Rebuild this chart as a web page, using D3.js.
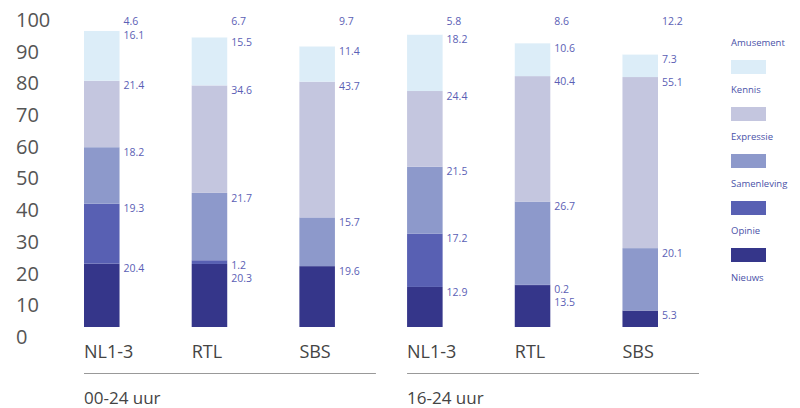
<!DOCTYPE html>
<html>
<head>
<meta charset="utf-8">
<script src="https://cdn.jsdelivr.net/npm/d3@7"></script>
<style>
  body { margin: 0; background: #fff; }
  svg { font-family: "Open Sans", sans-serif; }
</style>
</head>
<body>
<svg id="chart" width="800" height="408"></svg>
<script>
// bars, left to right
const bars = ["NL1-3 a", "RTL a", "SBS a", "NL1-3 b", "RTL b", "SBS b"];
const barLabels = ["NL1-3", "RTL", "SBS", "NL1-3", "RTL", "SBS"];
const groups = ["00-24 uur", "16-24 uur"];

// share per genre (%), stacked bottom -> top
const nieuws      = [20.4, 20.3, 19.6, 12.9, 13.5, 5.3];
const opinie      = [19.3, 1.2, 0, 17.2, 0.2, 0];
const samenleving = [18.2, 21.7, 15.7, 21.5, 26.7, 20.1];
const expressie   = [21.4, 34.6, 43.7, 24.4, 40.4, 55.1];
const kennis      = [16.1, 15.5, 11.4, 18.2, 10.6, 7.3];
const amusement   = [4.6, 6.7, 9.7, 5.8, 8.6, 12.2];

const genres = ["Nieuws", "Opinie", "Samenleving", "Expressie", "Kennis", "Amusement"];
const colors = ["#35368a", "#5860b3", "#8d99cb", "#c4c6df", "#dcedf8", "#ffffff"];
const yTicks = [0, 10, 20, 30, 40, 50, 60, 70, 80, 90, 100];

const svg = d3.select("#chart");

const table = bars.map((b, i) => ({
  bar: b,
  Nieuws: nieuws[i], Opinie: opinie[i], Samenleving: samenleving[i],
  Expressie: expressie[i], Kennis: kennis[i], Amusement: amusement[i]
}));

const series = d3.stack().keys(genres)(table);

const x = d3.scaleBand().domain(bars).range([84, 658]).paddingInner(0.67).paddingOuter(0);
const y = d3.scaleLinear().domain([0, 100]).range([327, 16.5]);
// the printed tick labels sit a little lower than the bar scale
const yAxisScale = y.copy().range([337, 20]);

const color = d3.scaleOrdinal().domain(genres).range(colors);

// y axis (labels only)
const yAxis = svg.append("g")
  .attr("transform", "translate(16,0)")
  .call(d3.axisLeft(yAxisScale).tickValues(yTicks).tickSize(0).tickPadding(0));
yAxis.select(".domain").remove();
yAxis.selectAll("text")
  .attr("text-anchor", "start")
  .attr("x", 0)
  .attr("fill", "#555")
  .style("font-size", "20px")
  .style("font-family", "Open Sans, sans-serif");

// stacked bars
svg.append("g").selectAll("g")
  .data(series)
  .join("g")
  .attr("fill", d => color(d.key))
  .selectAll("rect")
  .data(d => d)
  .join("rect")
  .attr("x", d => x(d.data.bar))
  .attr("y", d => y(d[1]))
  .attr("width", x.bandwidth())
  .attr("height", d => y(d[0]) - y(d[1]));

// value labels at the top of each segment, pushed down if they collide
bars.forEach((b, i) => {
  let prev = -Infinity;
  for (let k = genres.length - 1; k >= 0; k--) {
    const seg = series[k][i];
    const v = seg[1] - seg[0];
    if (v <= 0) continue;
    let cy = Math.max(y(seg[1]) + 5, prev + 13);
    prev = cy;
    svg.append("text")
      .attr("x", x(b) + x.bandwidth() + 4)
      .attr("y", cy)
      .attr("dy", "0.35em")
      .attr("fill", "#5b60b5")
      .style("font-size", "10.5px")
      .text(d3.format(".1f")(v));
  }
});

// category labels
svg.append("g").selectAll("text")
  .data(bars)
  .join("text")
  .attr("x", d => x(d))
  .attr("y", 358)
  .attr("fill", "#444")
  .style("font-size", "18px")
  .text((d, i) => barLabels[i]);

// group rules and labels
groups.forEach((g, gi) => {
  const first = bars[gi * 3];
  const last = bars[gi * 3 + 2];
  const x0 = x(first);
  const x1 = x(last) + x.bandwidth() + 41;
  svg.append("line")
    .attr("x1", x0).attr("x2", x1)
    .attr("y1", 373.5).attr("y2", 373.5)
    .attr("stroke", "#999")
    .attr("stroke-width", 1);
  svg.append("text")
    .attr("x", x0)
    .attr("y", 404)
    .attr("fill", "#444")
    .style("font-size", "17px")
    .text(g);
});

// legend: swatch with the name below, top item is Amusement (white swatch)
const legendOrder = genres.slice().reverse();
const legend = svg.append("g").attr("transform", "translate(731,13)");
const item = legend.selectAll("g")
  .data(legendOrder)
  .join("g")
  .attr("transform", (d, i) => `translate(0,${i * 47})`);
item.append("rect")
  .attr("width", 35)
  .attr("height", 14)
  .attr("fill", d => color(d));
item.append("text")
  .attr("x", 0)
  .attr("y", 33)
  .attr("fill", "#4a52a8")
  .style("font-size", "9.5px")
  .text(d => d);
</script>
</body>
</html>
